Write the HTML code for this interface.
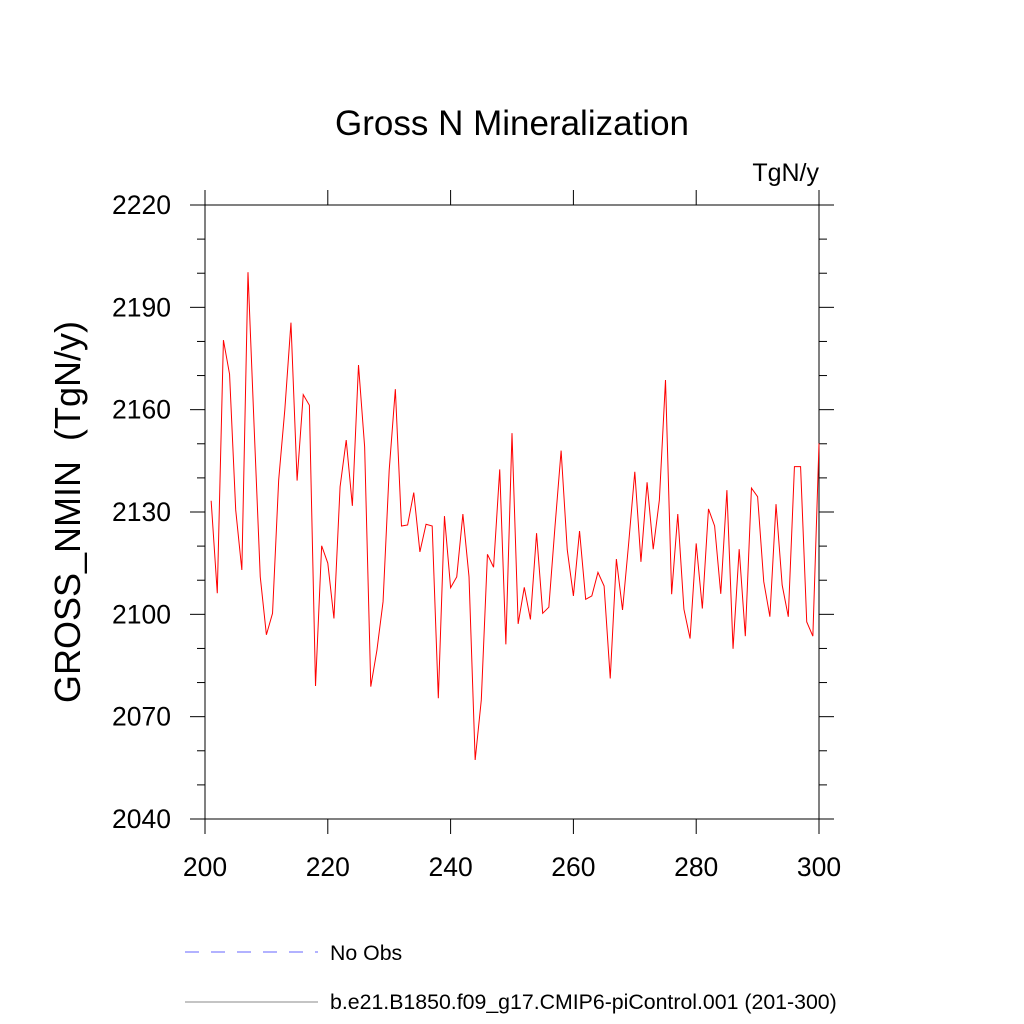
<!DOCTYPE html>
<html><head><meta charset="utf-8"><style>
body{margin:0;background:#fff;}
svg{display:block;font-family:"Liberation Sans",sans-serif;}
</style></head><body>
<svg id="chart" width="1024" height="1024">
<text x="512" y="135" font-size="35" text-anchor="middle">Gross N Mineralization</text>
<text x="819" y="181" font-size="25" text-anchor="end">TgN/y</text>
<text transform="translate(80,512) rotate(-90)" font-size="36" text-anchor="middle" style="white-space:pre" xml:space="preserve">GROSS_NMIN  (TgN/y)</text>
<g id="axes"></g>
<polyline id="series" fill="none" stroke="#ff0000" stroke-width="1"/>
<line x1="185" y1="952" x2="318" y2="952" stroke="#6666ff" stroke-width="1" stroke-dasharray="14,12"/>
<text x="330" y="960" font-size="21.3">No Obs</text>
<line x1="185" y1="1002" x2="318" y2="1002" stroke="#888" stroke-width="1"/>
<text x="330" y="1009" font-size="21.3">b.e21.B1850.f09_g17.CMIP6-piControl.001 (201-300)</text>
</svg>
<script>
const years = [];
for (let y = 201; y <= 300; y++) years.push(y);
const values = [2133.3,2106.2,2180.4,2170.4,2130.6,2113,2200.3,2155,2111,2094,
2100.3,2139.4,2160,2185.5,2139.2,2164.4,2161.3,2079,2120.1,2115,
2098.8,2137.4,2151.1,2131.8,2173.1,2149.1,2078.8,2089.5,2103.7,2142.3,
2166,2125.9,2126.2,2135.7,2118.3,2126.4,2125.9,2075.4,2128.8,2107.8,
2111,2129.4,2111,2057.3,2074.9,2117.6,2113.8,2142.5,2091.2,2153.1,
2097.2,2107.9,2098.5,2123.8,2100.3,2102.1,2125.7,2148,2118.9,2105.4,
2124.4,2104.4,2105.4,2112.3,2108.3,2081.2,2116.2,2101.3,2120.8,2141.8,
2115.4,2138.7,2119.1,2133.5,2168.7,2105.9,2129.4,2101.5,2092.9,2120.8,
2101.7,2130.9,2125.9,2106,2136.4,2089.9,2119.1,2093.6,2137,2134.5,
2109.6,2099.3,2132.3,2108.6,2099.3,2143.3,2143.3,2097.8,2093.6,2150.1];
const xTicks = [200,220,240,260,280,300];
const yTicks = [2040,2070,2100,2130,2160,2190,2220];
const yMinor = [2050,2060,2080,2090,2110,2120,2140,2150,2170,2180,2200,2210];
const L=205,R=819,T=205,B=819;
const sx = v => L + (v-200)/100*(R-L);
const sy = v => B - (v-2040)/180*(B-T);
const NS='http://www.w3.org/2000/svg';
const g=document.getElementById('axes');
function ln(x1,y1,x2,y2,name){const e=document.createElementNS(NS,'line');e.setAttribute('x1',x1);e.setAttribute('y1',y1);e.setAttribute('x2',x2);e.setAttribute('y2',y2);e.setAttribute('stroke','#000');e.setAttribute('stroke-width','1');


g.appendChild(e);}
function tx(x,y,s,anchor,name){const e=document.createElementNS(NS,'text');e.setAttribute('x',x);e.setAttribute('y',y);e.setAttribute('font-size','26.5');e.setAttribute('text-anchor',anchor);e.textContent=s;


g.appendChild(e);}
const fr=document.createElementNS(NS,'rect');fr.setAttribute('x',L);fr.setAttribute('y',T);fr.setAttribute('width',R-L);fr.setAttribute('height',B-T);fr.setAttribute('fill','none');fr.setAttribute('stroke','#000');


g.appendChild(fr);
xTicks.forEach(v=>{const x=sx(v);ln(x,B,x,B+15,'x-tick');ln(x,T,x,T-15,'x-tick-top');tx(x,876,String(v),'middle','x-tick-label');});
yTicks.forEach(v=>{const y=sy(v);ln(L,y,L-15,y,'y-tick');ln(R,y,R+15,y,'y-tick-right');tx(171,y+9,String(v),'end','y-tick-label');});
yMinor.forEach(v=>{const y=sy(v);ln(L,y,L-8,y,'y-minor-tick');ln(R,y,R+8,y,'y-minor-tick-right');});
document.getElementById('series').setAttribute('points',years.map((y,i)=>sx(y).toFixed(2)+','+sy(values[i]).toFixed(2)).join(' '));
</script>
</body></html>
